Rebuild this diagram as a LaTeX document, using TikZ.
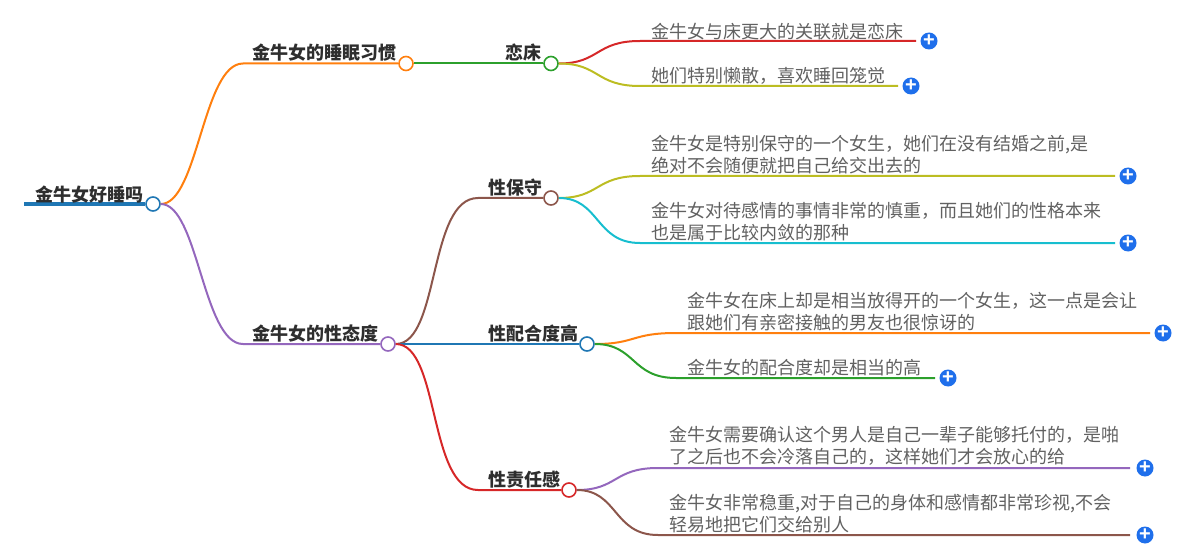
\documentclass[tikz,border=0pt]{standalone}
\usepackage{fontspec}
\setmainfont{Noto Sans CJK SC}
\newfontfamily\plusfont{Liberation Sans}
\definecolor{cblue}{HTML}{1F77B4}
\definecolor{corange}{HTML}{FF7F0E}
\definecolor{cgreen}{HTML}{2CA02C}
\definecolor{cred}{HTML}{D62728}
\definecolor{cpurple}{HTML}{9467BD}
\definecolor{cbrown}{HTML}{8C564B}
\definecolor{colive}{HTML}{BCBD22}
\definecolor{ccyan}{HTML}{17BECF}
\definecolor{cplus}{HTML}{1F6FEB}
\tikzset{
  x=1pt,y=-1pt,
  knob/.style={circle,draw=#1,fill=white,line width=1.6pt,minimum size=14pt,inner sep=0pt},
  head/.style={anchor=base west,inner sep=0pt,text=black!82,font=\fontsize{18}{22}\selectfont\bfseries},
  body/.style={anchor=south west,inner sep=0pt,align=left,text=black!62,font=\fontsize{18}{22}\selectfont},
  plusbtn/.style={circle,fill=cplus,minimum size=17pt,inner sep=0pt,text=white,font=\plusfont\fontsize{20}{20}\selectfont\bfseries},
  link/.style={draw=#1,line width=2pt},
}
\begin{document}
\begin{tikzpicture}
\useasboundingbox (0,0) rectangle (1188,548);
% knobs
\node[knob=cblue] (root) at (153,204) {};
\node[knob=corange] (sleep) at (406,63.5) {};
\node[knob=cpurple] (sex) at (388,344) {};
\node[knob=cgreen] (lian) at (551,63.5) {};
\node[knob=cbrown] (bao) at (551,198) {};
\node[knob=cblue] (pei) at (587,344) {};
\node[knob=cred] (ze) at (569,490) {};
% plus buttons
\node[plusbtn] (p1) at (929,41) {+};
\node[plusbtn] (p2) at (911,86) {+};
\node[plusbtn] (p3) at (1128,176) {+};
\node[plusbtn] (p4) at (1128,243) {+};
\node[plusbtn] (p5) at (1163,333) {+};
\node[plusbtn] (p6) at (948,378) {+};
\node[plusbtn] (p7) at (1145,468) {+};
\node[plusbtn] (p8) at (1145,535) {+};
% free ends and turning points
\coordinate (rootstart) at (24,204);
\coordinate (t1) at (243,63.5);
\coordinate (t2) at (243,344);
\coordinate (e1) at (916,41);  \coordinate (t11) at (640,41);
\coordinate (e2) at (898,86);  \coordinate (t12) at (640,86);
\coordinate (t3) at (478,198);
\coordinate (e3) at (1115,176); \coordinate (t31) at (640,176);
\coordinate (e4) at (1115,243); \coordinate (t32) at (640,243);
\coordinate (e5) at (1150,333); \coordinate (t51) at (676,333);
\coordinate (e6) at (935,378);  \coordinate (t52) at (676,378);
\coordinate (t4) at (478,490);
\coordinate (e7) at (1130,468); \coordinate (t71) at (658,468);
\coordinate (e8) at (1130,535); \coordinate (t72) at (658,535);
% connectors
\draw[cblue,line width=4pt] (rootstart) -- (root);
\draw[link=corange] (root.east) .. controls (198,204) and (203,63.5) .. (t1) -- (sleep);
\draw[link=cpurple] (root.east) .. controls (198,204) and (203,344) .. (t2) -- (sex);
\draw[link=cgreen] (sleep) -- (lian);
\draw[link=cred] (lian.east) .. controls (600,63.5) and (595,41) .. (t11) -- (e1);
\draw[link=colive] (lian.east) .. controls (600,63.5) and (595,86) .. (t12) -- (e2);
\draw[link=cbrown] (sex.east) .. controls (440,344) and (428,198) .. (t3) -- (bao);
\draw[link=cblue] (sex) -- (pei);
\draw[link=cred] (sex.east) .. controls (440,344) and (428,490) .. (t4) -- (ze);
\draw[link=colive] (bao.east) .. controls (600,198) and (595,176) .. (t31) -- (e3);
\draw[link=ccyan] (bao.east) .. controls (600,198) and (595,243) .. (t32) -- (e4);
\draw[link=corange] (pei.east) .. controls (636,344) and (631,333) .. (t51) -- (e5);
\draw[link=cgreen] (pei.east) .. controls (636,344) and (631,378) .. (t52) -- (e6);
\draw[link=cpurple] (ze.east) .. controls (618,490) and (613,468) .. (t71) -- (e7);
\draw[link=cbrown] (ze.east) .. controls (618,490) and (613,535) .. (t72) -- (e8);
% texts
\node[head] (troot) at (35,201) {金牛女好睡吗};
\node[head] (tsleep) at (252,60) {金牛女的睡眠习惯};
\node[head] (tsex) at (252,340) {金牛女的性态度};
\node[head] (tlian) at (505,59.5) {恋床};
\node[head] (tbao) at (488,194) {性保守};
\node[head] (tpei) at (488,340) {性配合度高};
\node[head] (tze) at (488,486.5) {性责任感};
\node[body] (b1) at (651,40) {金牛女与床更大的关联就是恋床};
\node[body] (b2) at (651,85) {她们特别懒散，喜欢睡回笼觉};
\node[body] (b3) at (651,174) {金牛女是特别保守的一个女生，她们在没有结婚之前,是\\绝对不会随便就把自己给交出去的};
\node[body] (b4) at (651,241) {金牛女对待感情的事情非常的慎重，而且她们的性格本来\\也是属于比较内敛的那种};
\node[body] (b5) at (687,331) {金牛女在床上却是相当放得开的一个女生，这一点是会让\\跟她们有亲密接触的男友也很惊讶的};
\node[body] (b6) at (687,376) {金牛女的配合度却是相当的高};
\node[body] (b7) at (669,466) {金牛女需要确认这个男人是自己一辈子能够托付的，是啪\\了之后也不会冷落自己的，这样她们才会放心的给};
\node[body] (b8) at (669,533) {金牛女非常稳重,对于自己的身体和感情都非常珍视,不会\\轻易地把它们交给别人};
\end{tikzpicture}
\end{document}
